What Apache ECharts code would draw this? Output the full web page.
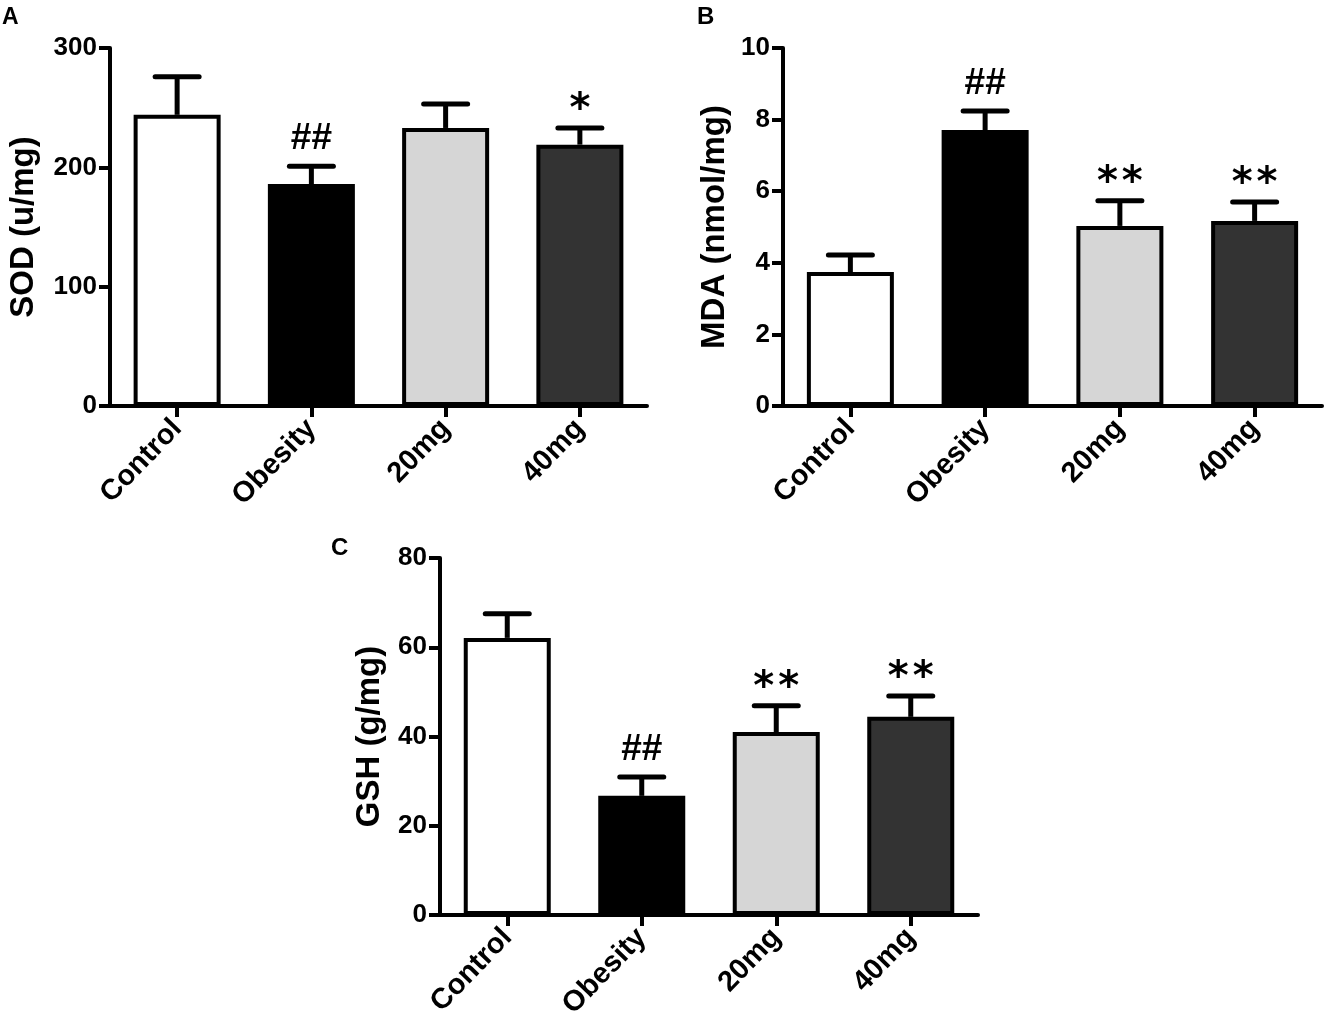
<!DOCTYPE html>
<html>
<head>
<meta charset="utf-8">
<script src="https://cdn.jsdelivr.net/npm/echarts@6/dist/echarts.min.js"></script>
<style>
html,body{margin:0;padding:0;background:#fff;}
#chart{width:1325px;height:1027px;}
</style>
</head>
<body>
<div id="chart"></div>
<script>
const categories = ['Control', 'Obesity', '20mg', '40mg'];
const barColors = ['#ffffff', '#000000', '#d6d6d6', '#333333'];

const sodMean = [244, 186, 233, 219];
const sodUpper = [276, 201, 253, 233];
const sodSig = ['', '##', '', '*'];

const mdaMean = [3.74, 7.71, 5.03, 5.17];
const mdaUpper = [4.22, 8.24, 5.73, 5.70];
const mdaSig = ['', '##', '**', '**'];

const gshMean = [62.1, 26.7, 41.0, 44.4];
const gshUpper = [67.5, 30.9, 46.9, 49.1];
const gshSig = ['', '##', '**', '**'];

const sodTicks = {min: 0, max: 300, interval: 100};
const mdaTicks = {min: 0, max: 10, interval: 2};
const gshTicks = {min: 0, max: 80, interval: 20};

const FONT = 'Liberation Sans, Arial, sans-serif';

function makeX(gridIndex) {
  return {
    type: 'category', gridIndex: gridIndex, data: categories,
    axisLine: {lineStyle: {color: '#000', width: 4}},
    axisTick: {show: true, alignWithLabel: true, length: 11, lineStyle: {color: '#000', width: 4}},
    axisLabel: {rotate: 46, margin: 18, color: '#000', fontSize: 29, fontWeight: 'bold', fontFamily: FONT, interval: 0}
  };
}
function makeY(gridIndex, ticks, name, gap) {
  return {
    type: 'value', gridIndex: gridIndex, min: ticks.min, max: ticks.max, interval: ticks.interval,
    name: name, nameLocation: 'middle', nameRotate: 90, nameGap: gap,
    nameTextStyle: {color: '#000', fontSize: 33, fontWeight: 'bold', fontFamily: FONT},
    axisLine: {show: true, lineStyle: {color: '#000', width: 4}},
    axisTick: {show: true, length: 11, lineStyle: {color: '#000', width: 4}},
    axisLabel: {margin: 13, color: '#000', fontSize: 26, fontWeight: 'bold', fontFamily: FONT},
    splitLine: {show: false}
  };
}
function barSeries(idx, means) {
  return {
    type: 'bar', xAxisIndex: idx, yAxisIndex: idx, barWidth: 87,
    data: means.map((v, i) => ({value: v, itemStyle: {color: barColors[i]}})),
    itemStyle: {borderColor: '#000', borderWidth: 4},
    z: 2
  };
}
function errSeries(idx, means, uppers) {
  return {
    type: 'custom', xAxisIndex: idx, yAxisIndex: idx, z: 3,
    data: means.map((m, i) => [i, m, uppers[i]]),
    renderItem: function (params, api) {
      const base = api.coord([api.value(0), api.value(1)]);
      const top = api.coord([api.value(0), api.value(2)]);
      return {
        type: 'group',
        children: [
          {type: 'line', shape: {x1: base[0], y1: base[1], x2: base[0], y2: top[1]}, style: {stroke: '#000', lineWidth: 5}},
          {type: 'line', shape: {x1: base[0] - 22, y1: top[1], x2: base[0] + 22, y2: top[1]}, style: {stroke: '#000', lineWidth: 5, lineCap: 'round'}}
        ]
      };
    }
  };
}
function sigSeries(idx, uppers, sig) {
  return {
    type: 'custom', xAxisIndex: idx, yAxisIndex: idx, z: 4,
    data: uppers.map((u, i) => [i, u]),
    renderItem: function (params, api) {
      const label = sig[params.dataIndex];
      if (!label) return null;
      const p = api.coord([api.value(0), api.value(1)]);
      const isStar = label.indexOf('*') >= 0;
      return {
        type: 'text',
        x: p[0], y: isStar ? p[1] - 17 : p[1] - 27,
        style: {
          text: isStar ? label.split('').join('\u200A') : label,
          fill: '#000',
          font: isStar ? 'bold 40px DejaVu Sans' : 'bold 37px ' + FONT,
          textAlign: 'center', textVerticalAlign: 'middle'
        }
      };
    }
  };
}

const chart = echarts.init(document.getElementById('chart'));
chart.setOption({
  backgroundColor: '#fff',
  animation: false,
  grid: [
    {left: 110, right: 678, top: 48, bottom: 621},
    {left: 783, right: 3, top: 48, bottom: 621},
    {left: 440, right: 347, top: 558, bottom: 112}
  ],
  xAxis: [makeX(0), makeX(1), makeX(2)],
  yAxis: [
    makeY(0, sodTicks, 'SOD (u/mg)', 70),
    makeY(1, mdaTicks, 'MDA (nmol/mg)', 52),
    makeY(2, gshTicks, 'GSH (g/mg)', 54)
  ],
  graphic: [
    {type: 'text', left: 2, top: 6, style: {text: 'A', fill: '#000', font: 'bold 23px ' + FONT}},
    {type: 'text', left: 697, top: 5, style: {text: 'B', fill: '#000', font: 'bold 24px ' + FONT}},
    {type: 'text', left: 331, top: 536, style: {text: 'C', fill: '#000', font: 'bold 24px ' + FONT}}
  ],
  series: [
    barSeries(0, sodMean), errSeries(0, sodMean, sodUpper), sigSeries(0, sodUpper, sodSig),
    barSeries(1, mdaMean), errSeries(1, mdaMean, mdaUpper), sigSeries(1, mdaUpper, mdaSig),
    barSeries(2, gshMean), errSeries(2, gshMean, gshUpper), sigSeries(2, gshUpper, gshSig)
  ]
});
</script>
</body>
</html>
